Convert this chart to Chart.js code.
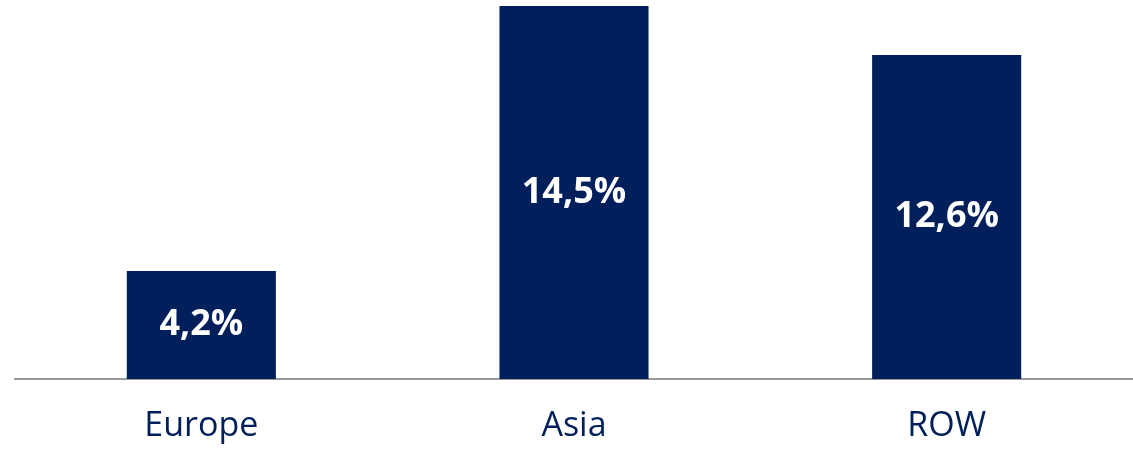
<!DOCTYPE html>
<html>
<head>
<meta charset="utf-8">
<script src="https://cdn.jsdelivr.net/npm/chart.js@4/dist/chart.umd.min.js"></script>
<style>
    html, body { margin: 0; padding: 0; background: #fff; }
    #wrap { width: 1133px; height: 450px; }
</style>
</head>
<body>
<div id="wrap"><canvas id="growth"></canvas></div>
<script>
const regions = ["Europe", "Asia", "ROW"];
const growth = [4.2, 14.5, 12.6];
const labels = ["4,2%", "14,5%", "12,6%"];

const navy = "#001F5B";

// writes the value inside each bar, centred
const barLabels = {
    id: 'barLabels',
    afterDatasetsDraw(chart) {
        const ctx = chart.ctx;
        const meta = chart.getDatasetMeta(0);
        ctx.save();
        ctx.font = "bold 36px 'Open Sans'";
        ctx.fillStyle = "#fff";
        ctx.textAlign = "center";
        ctx.textBaseline = "middle";
        meta.data.forEach((bar, i) => {
            ctx.fillText(labels[i], bar.x, (bar.y + bar.base) / 2);
        });
        ctx.restore();
    }
};

new Chart(document.getElementById("growth"), {
    type: 'bar',
    data: {
        labels: regions,
        datasets: [{
            data: growth,
            backgroundColor: navy,
            barPercentage: 0.4,
            categoryPercentage: 1
        }]
    },
    options: {
        responsive: true,
        maintainAspectRatio: false,
        animation: false,
        layout: {
            padding: { left: 15, right: -2, top: 6, bottom: 0 }
        },
        plugins: {
            legend: { display: false },
            tooltip: { enabled: false }
        },
        scales: {
            y: {
                display: false,
                min: 0,
                max: 14.5
            },
            x: {
                afterFit: scale => { scale.height = 71; },
                grid: { display: false, drawTicks: false },
                border: { display: true, color: "#999", width: 2 },
                ticks: {
                    color: navy,
                    padding: 27,
                    font: { family: "'Open Sans'", size: 34 }
                }
            }
        }
    },
    plugins: [barLabels]
});
</script>
</body>
</html>
